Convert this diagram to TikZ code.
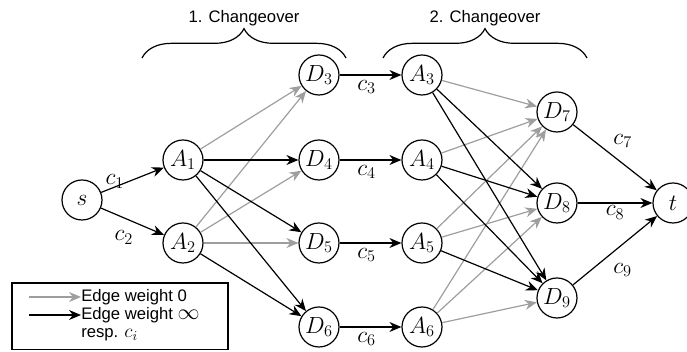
\RequirePackage{fix-cm}
\documentclass[tikz,border=0pt]{standalone}
\usepackage{fontspec}
\setsansfont{Liberation Sans}
\usetikzlibrary{arrows.meta,decorations.pathreplacing}
\definecolor{zerogray}{RGB}{158,158,158}
\tikzset{
  vertex/.style={draw,circle,line width=0.9pt,minimum size=30pt,inner sep=0pt,font=\fontsize{17.5}{20}\selectfont},
  infedge/.style={-{Stealth[length=9pt,width=7.5pt]},line width=0.9pt,black},
  zeroedge/.style={-{Stealth[length=9pt,width=7.5pt]},line width=0.9pt,zerogray},
  weight/.style={font=\fontsize{17.5}{20}\selectfont,inner sep=1.5pt},
  labeltext/.style={font=\sffamily\fontsize{12.5}{14}\selectfont},
  legendtext/.style={labeltext,anchor=west,inner sep=0pt,text height=8.5pt,text depth=2pt},
  changeover/.style={decorate,decoration={brace,amplitude=22pt},line width=0.9pt}
}
\begin{document}
\begin{tikzpicture}[x=0.75pt,y=-0.75pt]
\useasboundingbox (0,0) rectangle (687,352);
% vertices
\node [vertex] (s) at (82,200) {$s$};
\node [vertex] (A1) at (183,160) {$A_1$};
\node [vertex] (A2) at (183,243) {$A_2$};
\node [vertex] (D3) at (319,75) {$D_3$};
\node [vertex] (D4) at (319,160) {$D_4$};
\node [vertex] (D5) at (319,243) {$D_5$};
\node [vertex] (D6) at (319,327) {$D_6$};
\node [vertex] (A3) at (422,75) {$A_3$};
\node [vertex] (A4) at (422,160) {$A_4$};
\node [vertex] (A5) at (422,243) {$A_5$};
\node [vertex] (A6) at (422,327) {$A_6$};
\node [vertex] (D7) at (557,112) {$D_7$};
\node [vertex] (D8) at (557,203) {$D_8$};
\node [vertex] (D9) at (557,298) {$D_9$};
\node [vertex] (t) at (673,203) {$t$};
% changeovers
\draw [changeover] (142,58) -- (346,58);
\node [labeltext] (co1) at (244,18) {1. Changeover};
\draw [changeover] (383,58) -- (587,58);
\node [labeltext] (co2) at (485,18) {2. Changeover};
% edges of weight 0
\draw [zeroedge] (A1) -- (D3);
\draw [zeroedge] (A2) -- (D3);
\draw [zeroedge] (A2) -- (D4);
\draw [zeroedge] (A2) -- (D5);
\draw [zeroedge] (A3) -- (D7);
\draw [zeroedge] (A4) -- (D7);
\draw [zeroedge] (A5) -- (D7);
\draw [zeroedge] (A6) -- (D7);
\draw [zeroedge] (A5) -- (D8);
\draw [zeroedge] (A6) -- (D8);
\draw [zeroedge] (A6) -- (D9);
% edges of weight infinity
\draw [infedge] (A1) -- (D4);
\draw [infedge] (A1) -- (D5);
\draw [infedge] (A1) -- (D6);
\draw [infedge] (A2) -- (D6);
\draw [infedge] (A3) -- (D8);
\draw [infedge] (A3) -- (D9);
\draw [infedge] (A4) -- (D8);
\draw [infedge] (A4) -- (D9);
\draw [infedge] (A5) -- (D9);
% edges of weight c_i
\draw [infedge] (s) -- node [weight,left=2pt,pos=0.45] {$c_1$} (A1);
\draw [infedge] (s) -- node [weight,below left,pos=0.55,yshift=-4pt] {$c_2$} (A2);
\draw [infedge] (D3) -- node [weight,below=2pt,xshift=-3pt] {$c_3$} (A3);
\draw [infedge] (D4) -- node [weight,below=2pt,xshift=-3pt] {$c_4$} (A4);
\draw [infedge] (D5) -- node [weight,below=2pt,xshift=-3pt] {$c_5$} (A5);
\draw [infedge] (D6) -- node [weight,below=2pt,xshift=-3pt] {$c_6$} (A6);
\draw [infedge] (D7) -- node [weight,above right,pos=0.45,yshift=3pt] {$c_7$} (t);
\draw [infedge] (D8) -- node [weight,below] {$c_8$} (t);
\draw [infedge] (D9) -- node [weight,below right,pos=0.45,yshift=-5pt] {$c_9$} (t);
% legend
\node [draw,line width=1pt,minimum width=162pt,minimum height=50pt,inner sep=0pt] (legend) at (120,316.5) {};
\coordinate (z1) at (29,297);
\coordinate (z2) at (81,297);
\coordinate (w1) at (29,315);
\coordinate (w2) at (81,315);
\draw [zeroedge] (z1) -- (z2);
\draw [infedge] (w1) -- (w2);
\node [legendtext] (lz) at (z2) {Edge weight 0};
\node [legendtext] (lw) at (w2) {Edge weight \fontsize{16.5}{14}\selectfont$\infty$};
\node [legendtext] (lr) at (81,333) {resp. \fontsize{14.5}{14}\selectfont$c_i$};
\end{tikzpicture}
\end{document}
